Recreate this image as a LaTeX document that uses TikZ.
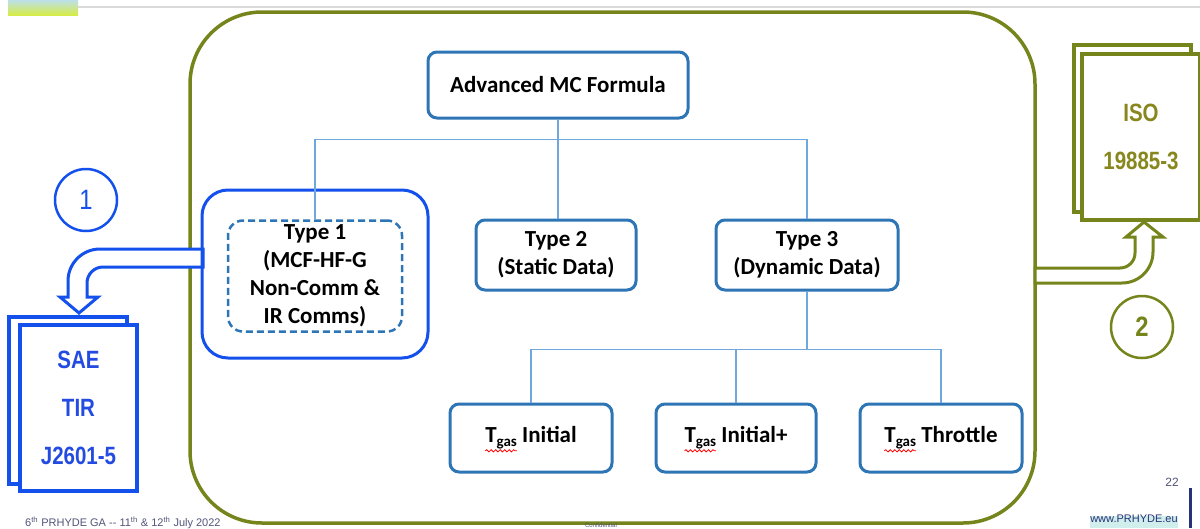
\documentclass[tikz,border=0pt]{standalone}
\usepackage{fontspec}
\setmainfont{Carlito}
\newfontfamily\arialfont{Liberation Sans}
\usetikzlibrary{decorations.pathmorphing,calc}
\definecolor{olivec}{RGB}{118,132,28}
\definecolor{olivetxt}{RGB}{135,135,30}
\definecolor{steelc}{RGB}{46,117,182}
\definecolor{connc}{RGB}{111,168,220}
\definecolor{brightc}{RGB}{20,80,235}
\definecolor{saetxt}{RGB}{35,75,225}
\definecolor{navyc}{RGB}{40,50,120}
\definecolor{footc}{RGB}{80,85,120}
\newcommand{\tgas}{\tikz[baseline=(tg.base)]{\node[inner sep=0pt,outer sep=0pt,draw=none,fill=none,rounded corners=0pt,minimum width=0pt,minimum height=0pt,text width=,align=left](tg){T\raisebox{-0.35ex}{\fontsize{15}{15}\selectfont gas}};\draw[overlay,solid,red,line width=0.8pt,rounded corners=0pt,decorate,decoration={snake,amplitude=1.1pt,segment length=4.5pt}]([yshift=-1.5pt]tg.south west)--([yshift=-1.5pt]tg.south east);}}
\tikzset{
  mcbox/.style={draw=steelc,line width=3pt,rounded corners=9pt,fill=white,align=center,inner sep=2pt,
    font=\fontsize{23}{28}\selectfont\bfseries},
  conn/.style={draw=connc,line width=1.8pt},
  docrect/.style={draw,fill=white,line width=3.5pt},
  doctext/.style={align=center,font=\arialfont\bfseries\fontsize{25}{48}\selectfont},
  numcirc/.style={circle,draw,line width=2.5pt,minimum size=62pt,inner sep=0pt,font=\arialfont\fontsize{28}{28}\selectfont},
  blockarrow/.style={fill=white,line width=3pt,line join=miter}
}
\begin{document}
\begin{tikzpicture}[x=1pt,y=-1pt]
\useasboundingbox (0,0) rectangle (1200,528);
% header
\shade[top color={rgb,255:red,188;green,224;blue,232},bottom color={rgb,255:red,214;green,236;blue,70}] (8,0) rectangle (78,15);
\draw[line width=2pt,color={rgb,255:red,218;green,218;blue,218}] (78,7) -- (1200,7);
% big frame
\node[draw=olivec,line width=3.5pt,rounded corners=72pt,minimum width=845pt,minimum height=511pt,inner sep=0pt] (frame) at (612.5,267.5) {};
% block arrow 1 (blue)
\draw[blockarrow,draw=brightc] (203,249) -- (100,249) .. controls (82.3,249) and (68,263.3) .. (68,281) -- (68,297) -- (60,297) -- (79,313) -- (98,297) -- (87,297) -- (87,283) .. controls (87,274.2) and (94.2,267) .. (103,267) -- (203,267) -- cycle;
% block arrow 2 (olive)
\draw[blockarrow,draw=olivec] (1035,268) -- (1120,268) .. controls (1128.3,268) and (1135,261.3) .. (1135,253) -- (1135,237) -- (1126,237) -- (1144,222) -- (1163,237) -- (1153,237) -- (1153,252) .. controls (1153,269.1) and (1139.1,283) .. (1122,283) -- (1035,283) -- cycle;
% documents SAE
\node[docrect,draw=brightc,minimum width=118pt,minimum height=167pt] (saeback) at (68,400.5) {};
\node[docrect,draw=brightc,minimum width=117pt,minimum height=166pt,doctext,text=saetxt] (sae) at (78.5,408) {\scalebox{0.82}[1]{SAE}\\\scalebox{0.82}[1]{TIR}\\\scalebox{0.82}[1]{J2601-5}};
% documents ISO
\node[docrect,draw=olivec,minimum width=117pt,minimum height=167pt] (isoback) at (1132.5,128.5) {};
\node[docrect,draw=olivec,minimum width=118pt,minimum height=166pt,doctext,text=olivetxt] (iso) at (1141,137) {\scalebox{0.82}[1]{ISO}\\\scalebox{0.82}[1]{19885-3}};
% number circles
\node[numcirc,draw=brightc,text=brightc] (n1) at (86,200) {\scalebox{0.85}[1]{1}};
\node[numcirc,draw=olivec,text=olivec] (n2) at (1142,327) {\scalebox{0.85}[1]{\bfseries 2}};
% hierarchy
\node[mcbox,minimum width=260pt,minimum height=66pt] (adv) at (558,85) {Advanced MC Formula};
\node[draw=brightc,line width=3pt,rounded corners=26pt,minimum width=226pt,minimum height=168pt,inner sep=0pt] (t1box) at (315,274) {};
\node[mcbox,dashed,dash pattern=on 7pt off 4pt,line width=2.5pt,rounded corners=15pt,minimum width=174pt,minimum height=111pt] (t1) at (315,276) {Type 1\\(MCF-HF-G\\Non-Comm \&\\IR Comms)};
\node[mcbox,minimum width=160pt,minimum height=70pt] (t2) at (556,255) {Type 2\\(Static Data)};
\node[mcbox,minimum width=182pt,minimum height=70pt] (t3) at (807,255) {Type 3\\(Dynamic Data)};
\node[mcbox,minimum width=162pt,minimum height=68pt] (g1) at (531,438) {\tgas{} Initial};
\node[mcbox,minimum width=160pt,minimum height=68pt] (g2) at (736,438) {\tgas{} Initial+};
\node[mcbox,minimum width=162pt,minimum height=68pt] (g3) at (941,438) {\tgas{} Throttle};
\coordinate (j1) at ($(adv.south)+(0,20)$);
\coordinate (j2) at ($(t3.south)+(0,58)$);
\draw[conn] (adv.south) -- (j1);
\draw[conn] (j1) -| (t1.north);
\draw[conn] (j1) -| (t3.north);
\draw[conn] (j1) -- (j1 |- t2.north);
\draw[conn] (t3.south) -- (j2);
\draw[conn] (j2) -| (g1.north);
\draw[conn] (j2) -| (g3.north);
\draw[conn] (j2) -- (j2 -| g2.north) -- (g2.north);
% footer
\node[text=footc,font=\arialfont\fontsize{12}{12}\selectfont] (pg) at (1172,482) {22};
\draw[navyc,line width=3pt] (1190,488) -- (1190,528);
\fill[color={rgb,255:red,208;green,238;blue,236}] (1090,516) rectangle (1178,528);
\node[text=navyc,font=\arialfont\fontsize{11}{11}\selectfont,inner sep=0pt] (web) at (1134,519) {www.PRHYDE.eu};
\node[text=footc,font=\arialfont\fontsize{11}{11}\selectfont,anchor=west,inner sep=0pt] (foot) at (25,523) {6\textsuperscript{th} PRHYDE GA -- 11\textsuperscript{th} \& 12\textsuperscript{th} July 2022};
\node[text=footc,font=\arialfont\fontsize{6}{6}\selectfont,inner sep=0pt,anchor=base] (conf) at (601,527.3) {Confidential};
\end{tikzpicture}
\end{document}
